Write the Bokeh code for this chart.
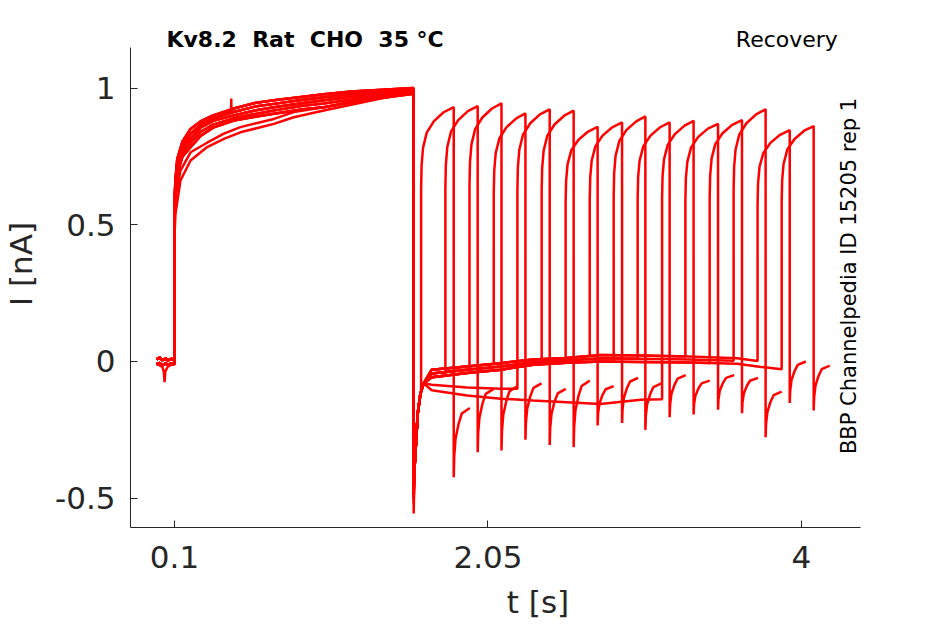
import numpy as np
from bokeh.plotting import figure
from bokeh.models import Range1d, FixedTicker, Label, ColumnDataSource
from bokeh.embed import file_html
from bokeh.resources import INLINE

# ---------------- data ----------------
x_ticks = [0.1, 2.05, 4.0]
x_tick_labels = ["0.1", "2.05", "4"]
y_ticks = [-0.5, 0.0, 0.5, 1.0]
y_tick_labels = ["-0.5", "0", "0.5", "1"]

# holding current before the first step (s, nA)
pre_t = [-0.012, 0.008, 0.025, 0.034, 0.038, 0.043, 0.060, 0.080, 0.099]
pre_a = [0.008, 0.015, 0.004, 0.010, 0.006, 0.012, 0.004, 0.010, 0.006]
pre_b = [-0.008, -0.014, -0.020, -0.040, -0.076, -0.035, -0.018, -0.012, -0.010]
pre_c = [-0.010, -0.005, -0.015, -0.008, -0.012, -0.004, -0.014, -0.006, -0.010]

# first test pulse: visible families of sweeps
p1u_t = [0.100, 0.100, 0.105, 0.117, 0.150, 0.200, 0.262, 0.340, 0.469, 0.600, 0.718, 0.900, 1.029, 1.200, 1.339, 1.586]
p1u1_i = [0.000, 0.560, 0.660, 0.740, 0.805, 0.850, 0.878, 0.900, 0.925, 0.945, 0.955, 0.968, 0.977, 0.987, 0.992, 1.000]
p1u4_i = [0.000, 0.550, 0.650, 0.725, 0.790, 0.832, 0.866, 0.890, 0.912, 0.932, 0.942, 0.957, 0.966, 0.978, 0.984, 0.995]
p1u3_i = [0.000, 0.540, 0.640, 0.710, 0.775, 0.815, 0.855, 0.880, 0.900, 0.918, 0.930, 0.945, 0.955, 0.968, 0.975, 0.990]
p1u5_i = [0.000, 0.530, 0.630, 0.698, 0.762, 0.800, 0.840, 0.866, 0.890, 0.905, 0.918, 0.935, 0.943, 0.958, 0.967, 0.985]
p1u2_i = [0.000, 0.520, 0.620, 0.686, 0.750, 0.784, 0.825, 0.855, 0.881, 0.895, 0.906, 0.922, 0.930, 0.948, 0.960, 0.979]
# short glitch on one sweep near t = 0.45 s
glitch_t = [0.452, 0.453, 0.454]
glitch_i = [0.916, 0.962, 0.916]
p1m_t = [0.100, 0.100, 0.106, 0.137, 0.200, 0.303, 0.407, 0.510, 0.718, 0.842, 1.029, 1.250, 1.450, 1.586]
p1m_i = [0.000, 0.500, 0.600, 0.698, 0.765, 0.800, 0.833, 0.857, 0.887, 0.912, 0.930, 0.955, 0.975, 0.985]
p1l_i = [0.000, 0.460, 0.540, 0.662, 0.735, 0.784, 0.814, 0.838, 0.869, 0.893, 0.918, 0.945, 0.970, 0.985]

p1_end = 1.588
# recovery of the tail current after the first pulse
rec_t = [1.592, 1.603, 1.613, 1.630, 1.650]
rec_i = [-0.400, -0.290, -0.190, -0.117, -0.080]

# tail current between the pulses (bands visible in the picture)
tail_t = [1.70, 1.92, 2.13, 2.33, 2.54, 2.75, 3.00, 3.30, 3.60, 3.75, 3.90]
tail_hi = [-0.030, -0.018, -0.006, 0.007, 0.013, 0.024, 0.022, 0.018, 0.012, 0.000, -0.012]
tail_mh = [-0.044, -0.030, -0.018, -0.003, 0.004, 0.012, 0.010, 0.007, 0.002, -0.010, -0.021]
tail_lo = [-0.058, -0.042, -0.030, -0.012, -0.005, 0.000, -0.002, -0.004, -0.008, -0.020, -0.030]
tail_mid = [-0.085, -0.095, -0.100, -0.100, -0.100, -0.100, -0.095, -0.090, -0.085, -0.080, -0.080]
tail_low = [-0.105, -0.124, -0.136, -0.143, -0.149, -0.155, -0.140, -0.135, -0.130, -0.130, -0.130]

# second test pulse, per sweep
p2_start = [1.634, 1.785, 1.935, 2.086, 2.233, 2.384, 2.533, 2.683, 2.832, 2.981, 3.133, 3.278, 3.429, 3.578, 3.727, 3.877]
p2_end = [1.837, 1.986, 2.134, 2.283, 2.434, 2.583, 2.732, 2.884, 3.029, 3.180, 3.329, 3.481, 3.630, 3.777, 3.927, 4.076]
p2_peak = [0.930, 0.934, 0.944, 0.907, 0.922, 0.917, 0.858, 0.874, 0.896, 0.874, 0.880, 0.869, 0.883, 0.922, 0.846, 0.861]
p1_spike = [-0.556, -0.470, -0.450, -0.500, -0.430, -0.480, -0.460, -0.520, -0.440, -0.490, -0.470, -0.450, -0.500, -0.460, -0.480, -0.440]
p2_spike = [-0.423, -0.332, -0.325, -0.286, -0.305, -0.313, -0.234, -0.225, -0.250, -0.204, -0.194, -0.176, -0.189, -0.277, -0.152, -0.179]
p2_tail_end = [-0.170, -0.100, -0.090, -0.080, -0.100, -0.070, -0.090, -0.060, -0.080, -0.050, -0.070, -0.050, -0.060, -0.110, 0.000, -0.015]

# shape of the second pulse (fraction of its peak) and of the recovery after it
p2_dt = [0.000, 0.003, 0.012, 0.035, 0.080, 0.140]
p2_frac = [0.680, 0.770, 0.840, 0.900, 0.945, 0.980]
post_dt = [0.003, 0.011, 0.030, 0.050, 0.100]
post_frac = [0.300, 0.550, 0.770, 0.920, 1.000]

pre_kind = ["b", "a", "c", "a", "c", "a", "c", "a", "c", "a", "c", "a", "c", "a", "c", "a"]
p1_kind = ["u1g", "u2", "u3", "u4", "m", "u5", "u2", "u1", "u3", "u4", "l", "u5", "u1", "u3", "u2", "u4"]
tail_kind = ["hi", "lo", "mh", "hi", "mid", "lo", "mh", "hi", "lo", "mh", "low", "hi", "lo", "mh", "hi", "lo"]

# ---------------- assemble sweeps ----------------
pre_map = {"a": pre_a, "b": pre_b, "c": pre_c}
p1_map = {"u1": (p1u_t, p1u1_i), "u2": (p1u_t, p1u2_i), "u3": (p1u_t, p1u3_i),
          "u4": (p1u_t, p1u4_i), "u5": (p1u_t, p1u5_i),
          "m": (p1m_t, p1m_i), "l": (p1m_t, p1l_i)}
tail_map = {"hi": tail_hi, "mh": tail_mh, "lo": tail_lo, "mid": tail_mid, "low": tail_low}

xs, ys = [], []
for k in range(len(p2_start)):
    t = list(pre_t)
    c = list(pre_map[pre_kind[k]])
    kind = p1_kind[k]
    if kind == "u1g":
        pts = sorted(list(zip(p1u_t, p1u1_i)) + list(zip(glitch_t, glitch_i)), key=lambda q: q[0])
        t += [q[0] for q in pts]
        c += [q[1] for q in pts]
    else:
        vt, vi = p1_map[kind]
        t += vt
        c += vi
    t.append(p1_end)
    c.append(p1_spike[k])
    s = p2_start[k]
    for a, b in zip(rec_t, rec_i):
        if a < s:
            t.append(a)
            c.append(b)
    tl = tail_map[tail_kind[k]]
    for a, b in zip(tail_t, tl):
        if a < s:
            t.append(a)
            c.append(b)
    if s > tail_t[0]:
        v0 = float(np.interp(s, tail_t, tl))
    else:
        v0 = float(np.interp(s, rec_t, rec_i))
    t.append(s)
    c.append(v0)
    pk = p2_peak[k]
    for a, b in zip(p2_dt, p2_frac):
        t.append(s + a)
        c.append(pk * b)
    e = p2_end[k]
    t.append(e)
    c.append(pk)
    sp = p2_spike[k]
    t.append(e)
    c.append(sp)
    te = p2_tail_end[k]
    for a, b in zip(post_dt, post_frac):
        t.append(e + a)
        c.append(sp + b * (te - sp))
    xs.append(t)
    ys.append(c)

# ---------------- figure ----------------
FONT = "DejaVu Sans"
DARK = "#262626"

# frame spans up to the top and right edge of the canvas so that the
# header texts are inside it; the axes are limited with 'bounds'
p = figure(width=945, height=624,
           x_range=Range1d(-0.1737, 4.896), y_range=Range1d(-0.607, 1.320),
           output_backend="svg", toolbar_location=None,
           min_border_left=130, min_border_right=0,
           min_border_top=0, min_border_bottom=97)
p.outline_line_color = None
p.xgrid.visible = False
p.ygrid.visible = False
p.background_fill_color = "white"
p.border_fill_color = "white"

src = ColumnDataSource(dict(xs=xs, ys=ys))
p.multi_line("xs", "ys", source=src, line_color="#ff0000", line_width=2.5)

for ax in (p.xaxis[0], p.yaxis[0]):
    ax.axis_line_color = DARK
    ax.axis_line_width = 1
    ax.major_tick_line_color = DARK
    ax.major_tick_in = 7
    ax.major_tick_out = 0
    ax.minor_tick_line_color = None
    ax.major_label_text_font = FONT
    ax.major_label_text_font_size = "31px"
    ax.major_label_text_color = DARK
    ax.axis_label_text_font = FONT
    ax.axis_label_text_font_size = "31px"
    ax.axis_label_text_font_style = "normal"
    ax.axis_label_text_color = DARK

p.xaxis.bounds = (-0.1737, 4.367)
p.yaxis.bounds = (-0.607, 1.148)
p.xaxis.ticker = FixedTicker(ticks=x_ticks)
p.xaxis.major_label_overrides = {tv: tl for tv, tl in zip(x_ticks, x_tick_labels)}
p.yaxis.ticker = FixedTicker(ticks=y_ticks)
p.yaxis.major_label_overrides = {tv: tl for tv, tl in zip(y_ticks, y_tick_labels)}
p.xaxis.axis_label = "t [s]"
p.yaxis.axis_label = "I [nA]"
p.xaxis.major_label_standoff = 18
p.xaxis.axis_label_standoff = 13
p.yaxis.major_label_standoff = 15
p.yaxis.axis_label_standoff = 13

NB = "\u00a0 "
p.add_layout(Label(x=0.050, y=1.176, text="Kv8.2" + NB + "Rat" + NB + "CHO" + NB + "35 °C",
                   text_font=FONT, text_font_size="22px", text_font_style="bold",
                   text_color="black", text_baseline="alphabetic", text_align="left"))
p.add_layout(Label(x=3.592, y=1.178, text="Recovery",
                   text_font=FONT, text_font_size="22px",
                   text_color="black", text_baseline="alphabetic", text_align="left"))
p.add_layout(Label(x=4.294, y=-0.3385, text="BBP Channelpedia ID 15205 rep 1",
                   angle=np.pi / 2, text_font=FONT, text_font_size="21px",
                   text_color="black", text_baseline="alphabetic", text_align="left"))

open("out.html", "w").write(file_html(p, INLINE))
